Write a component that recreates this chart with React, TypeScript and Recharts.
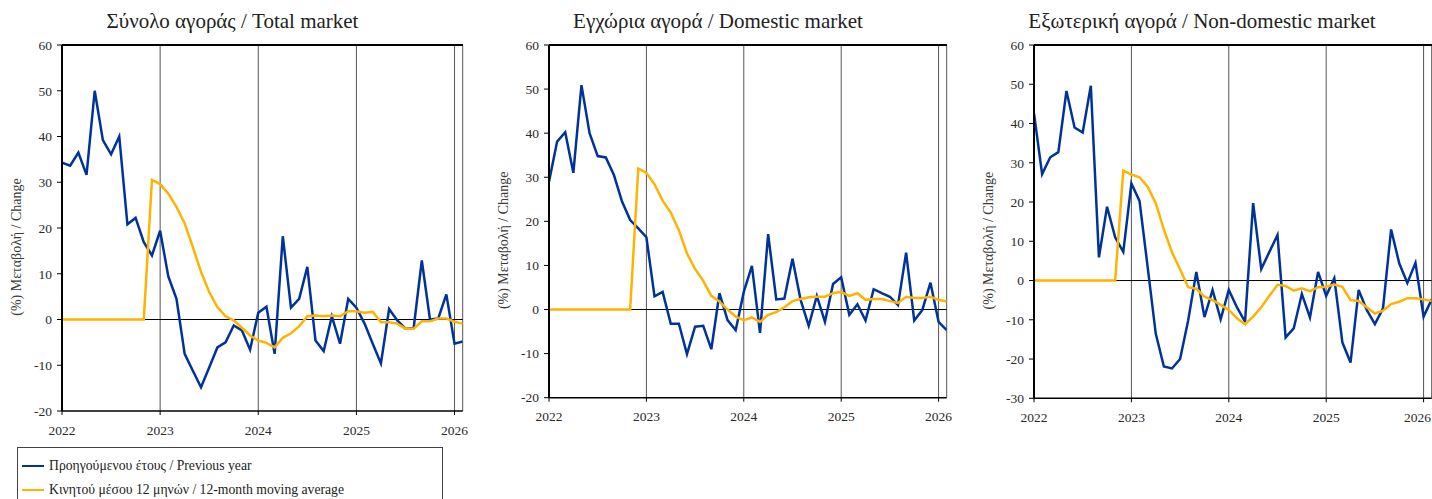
import React from 'react';
import { LineChart, Line, XAxis, YAxis, CartesianGrid, ReferenceLine } from 'recharts';

const FONT = '"Liberation Serif", "Times New Roman", serif';

const yearTicks = [0, 12, 24, 36, 48];
const yearLabels = ['2022', '2023', '2024', '2025', '2026'];
const lastIndex = 49;

const seriesNames = [
  'Προηγούμενου έτους / Previous year',
  'Κινητού μέσου 12 μηνών / 12-month moving average',
];
const seriesColors = ['#003399', '#FFB300'];

const panelTitles = [
  'Σύνολο αγοράς / Total market',
  'Εγχώρια αγορά / Domestic market',
  'Εξωτερική αγορά / Non-domestic market',
];
const yLabelText = '(%) Μεταβολή / Change';

const ticks20 = [-20, -10, 0, 10, 20, 30, 40, 50, 60];
const ticks30 = [-30, -20, -10, 0, 10, 20, 30, 40, 50, 60];

const totalPrev = [
  34.3, 33.6, 36.5, 31.6, 50.0, 39.2, 36.1, 40.0, 20.8, 22.2,
  16.9, 14.0, 19.4, 9.4, 4.5, -7.5, -11.2, -14.8, -10.5, -6.1,
  -5.0, -1.3, -2.4, -6.6, 1.5, 2.8, -7.5, 18.2, 2.6, 4.5,
  11.5, -4.6, -6.9, 0.7, -5.3, 4.5, 2.6, -0.9, -5.3, -9.6,
  2.3, -0.2, -2.0, -1.9, 12.9, 0.0, 0.2, 5.5, -5.3, -4.8,
];
const totalMA = [
  0, 0, 0, 0, 0, 0, 0, 0, 0, 0,
  0, 30.5, 29.6, 27.5, 24.6, 21.0, 15.8, 10.4, 6.0, 2.7,
  0.7, -0.2, -1.8, -3.5, -4.6, -5.1, -6.1, -4.0, -3.0, -1.5,
  0.7, 0.9, 0.7, 0.9, 0.7, 1.8, 1.8, 1.5, 1.7, -0.6,
  -0.6, -0.9, -2.0, -2.0, -0.4, -0.4, 0.2, 0.2, -0.5, -0.9,
];

const domesticPrev = [
  29.0, 38.1, 40.2, 31.0, 50.9, 40.0, 34.8, 34.5, 30.5, 24.5,
  20.3, 18.4, 16.4, 3.0, 4.0, -3.2, -3.2, -10.1, -3.9, -3.7,
  -9.0, 3.7, -2.4, -4.7, 4.0, 9.9, -5.3, 17.1, 2.3, 2.5,
  11.5, 2.2, -3.7, 3.1, -2.8, 5.8, 7.3, -1.2, 1.2, -2.5,
  4.6, 3.7, 2.9, 1.0, 12.9, -2.5, -0.1, 6.1, -2.8, -4.7,
];
const domesticMA = [
  0, 0, 0, 0, 0, 0, 0, 0, 0, 0,
  0, 32.0, 31.0, 28.4, 24.7, 22.0, 18.0, 12.7, 9.2, 6.5,
  3.1, 1.8, 0.0, -1.6, -2.4, -1.8, -2.8, -1.2, -0.6, 0.5,
  1.9, 2.4, 2.8, 2.9, 2.9, 3.7, 4.0, 3.1, 3.7, 2.2,
  2.4, 2.4, 1.9, 1.5, 2.9, 2.6, 2.6, 2.9, 2.2, 1.8,
];

const nonDomesticPrev = [
  42.6, 27.1, 31.4, 32.7, 48.3, 39.0, 37.7, 49.6, 5.9, 18.8,
  11.0, 7.3, 24.7, 20.3, 3.5, -13.5, -21.9, -22.4, -20.0, -10.1,
  2.2, -9.3, -2.4, -9.9, -2.4, -6.8, -10.5, 19.7, 2.9, 7.3,
  11.6, -14.5, -12.2, -3.4, -9.4, 2.2, -3.9, 0.6, -15.8, -20.9,
  -2.4, -7.5, -11.1, -7.1, 13.0, 4.4, -0.6, 4.5, -9.2, -4.8,
];
const nonDomesticMA = [
  0, 0, 0, 0, 0, 0, 0, 0, 0, 0,
  0, 28.0, 27.0, 26.3, 23.9, 19.7, 13.0, 7.2, 2.8, -1.7,
  -2.1, -4.1, -5.0, -6.2, -7.5, -9.6, -11.1, -9.2, -6.8, -3.9,
  -1.1, -1.4, -2.6, -2.0, -2.7, -1.7, -1.6, -1.0, -1.6, -5.0,
  -5.2, -6.8, -8.4, -7.7, -6.0, -5.4, -4.5, -4.5, -4.8, -5.2,
];

type PanelCfg = {
  title: string;
  left: number;
  width: number;
  height: number;
  plotLeft: number;
  plotRight: number;
  plotBottom: number;
  titleCenter: number;
  tickMaxX: number;
  yTicks: number[];
  prev: number[];
  ma: number[];
};

const PLOT_TOP = 45;

const panels: PanelCfg[] = [
  { title: panelTitles[0], left: 0, width: 480, height: 450, plotLeft: 62, plotRight: 462.7, plotBottom: 411, titleCenter: 232.5, tickMaxX: 1000, yTicks: ticks20, prev: totalPrev, ma: totalMA },
  { title: panelTitles[1], left: 490, width: 480, height: 440, plotLeft: 549, plotRight: 946.7, plotBottom: 397.7, titleCenter: 718, tickMaxX: 1000, yTicks: ticks20, prev: domesticPrev, ma: domesticMA },
  { title: panelTitles[2], left: 970, width: 462, height: 440, plotLeft: 1034, plotRight: 1431.7, plotBottom: 398.3, titleCenter: 1202, tickMaxX: 447.5, yTicks: ticks30, prev: nonDomesticPrev, ma: nonDomesticMA },
];

const tickStyle = { fontFamily: FONT, fontSize: 13.5, fill: '#2a2a2a' };

function renderYLabel(props: any) {
  const vb = props.viewBox || {};
  const cx = vb.x + vb.width - 45.5;
  const cy = vb.y + vb.height / 2 + 19;
  return (
    <text
      x={cx}
      y={cy}
      transform={`rotate(-90, ${cx}, ${cy})`}
      textAnchor="middle"
      dominantBaseline="central"
      style={{ fontFamily: FONT, fontSize: 14, fill: '#3a3a3a' }}
    >
      {yLabelText}
    </text>
  );
}

function makeXTick(maxX: number) {
  return (props: any) => {
    const { x, y, payload } = props;
    const idx = yearTicks.indexOf(payload.value);
    return (
      <text
        x={Math.min(x, maxX)}
        y={y}
        dy="0.71em"
        textAnchor="middle"
        style={tickStyle}
      >
        {yearLabels[idx]}
      </text>
    );
  };
}

function Panel({ cfg }: { cfg: PanelCfg }) {
  const data = cfg.prev.map((v, i) => ({ t: i, prev: v, ma: cfg.ma[i] }));
  const yAxisWidth = cfg.plotLeft - cfg.left;
  const right = cfg.left + cfg.width - cfg.plotRight;
  const xAxisHeight = 30;
  const bottom = cfg.height - cfg.plotBottom - xAxisHeight;
  const yMin = cfg.yTicks[0];
  const yMax = cfg.yTicks[cfg.yTicks.length - 1];
  return (
    <>
      <div
        style={{
          position: 'absolute',
          left: cfg.titleCenter - 250,
          top: 9,
          width: 500,
          textAlign: 'center',
          fontFamily: FONT,
          fontSize: 21,
          lineHeight: '24px',
          color: '#222',
          whiteSpace: 'nowrap',
        }}
      >
        {cfg.title}
      </div>
      <div style={{ position: 'absolute', left: cfg.left, top: 0, width: cfg.width, height: cfg.height }}>
        <LineChart
          width={cfg.width}
          height={cfg.height}
          data={data}
          margin={{ top: PLOT_TOP, right, bottom, left: 0 }}
        >
          <CartesianGrid horizontal={false} stroke="#555" strokeWidth={1} />
          <ReferenceLine y={0} stroke="#000" strokeWidth={1} />
          <ReferenceLine y={yMax} stroke="#000" strokeWidth={1.5} ifOverflow="visible" />
          <XAxis
            type="number"
            dataKey="t"
            domain={[0, lastIndex]}
            ticks={yearTicks}
            interval={0}
            height={xAxisHeight}
            tickSize={4}
            tickMargin={10}
            tick={makeXTick(cfg.tickMaxX)}
            axisLine={{ stroke: '#000', strokeWidth: 1.5 }}
            tickLine={{ stroke: '#000' }}
            allowDataOverflow
          />
          <YAxis
            type="number"
            domain={[yMin, yMax]}
            ticks={cfg.yTicks}
            interval={0}
            width={yAxisWidth}
            tickSize={5}
            tickMargin={5}
            tick={tickStyle}
            axisLine={{ stroke: '#000', strokeWidth: 2 }}
            tickLine={{ stroke: '#000' }}
            allowDataOverflow
            label={renderYLabel}
          />
          <YAxis
            yAxisId="right"
            orientation="right"
            type="number"
            domain={[yMin, yMax]}
            width={0}
            tick={false}
            tickLine={false}
            axisLine={{ stroke: '#999', strokeWidth: 2 }}
            allowDataOverflow
          />
          <Line
            type="linear"
            dataKey="prev"
            name={seriesNames[0]}
            stroke={seriesColors[0]}
            strokeWidth={2.5}
            dot={false}
            activeDot={false}
            isAnimationActive={false}
          />
          <Line
            type="linear"
            dataKey="ma"
            name={seriesNames[1]}
            stroke={seriesColors[1]}
            strokeWidth={2.5}
            dot={false}
            activeDot={false}
            isAnimationActive={false}
          />
        </LineChart>
      </div>
      <div
        style={{
          position: 'absolute',
          left: cfg.plotLeft,
          top: PLOT_TOP - 1,
          width: cfg.plotRight - cfg.plotLeft,
          height: 1.5,
          background: '#000',
          pointerEvents: 'none',
        }}
      />
    </>
  );
}

function LegendBox() {
  const rows = [465, 489];
  return (
    <div
      style={{
        position: 'absolute',
        left: 17,
        top: 447,
        width: 426,
        height: 70,
        border: '1px solid #444',
        boxSizing: 'border-box',
        fontFamily: FONT,
        fontSize: 13.7,
        color: '#222',
      }}
    >
      {seriesNames.map((name, i) => (
        <div
          key={name}
          style={{
            position: 'absolute',
            left: 0,
            top: rows[i] - 447 - 10,
            height: 20,
            display: 'flex',
            alignItems: 'center',
            whiteSpace: 'nowrap',
          }}
        >
          <span
            style={{
              display: 'inline-block',
              marginLeft: 4,
              width: 22,
              height: 2.5,
              background: seriesColors[i],
            }}
          />
          <span style={{ marginLeft: 5 }}>{name}</span>
        </div>
      ))}
    </div>
  );
}

export default function App() {
  return (
    <div
      style={{
        position: 'absolute',
        left: 0,
        top: 0,
        width: 1432,
        height: 499,
        overflow: 'hidden',
        background: '#fff',
      }}
    >
      {panels.map((p) => (
        <Panel key={p.title} cfg={p} />
      ))}
      <LegendBox />
    </div>
  );
}
